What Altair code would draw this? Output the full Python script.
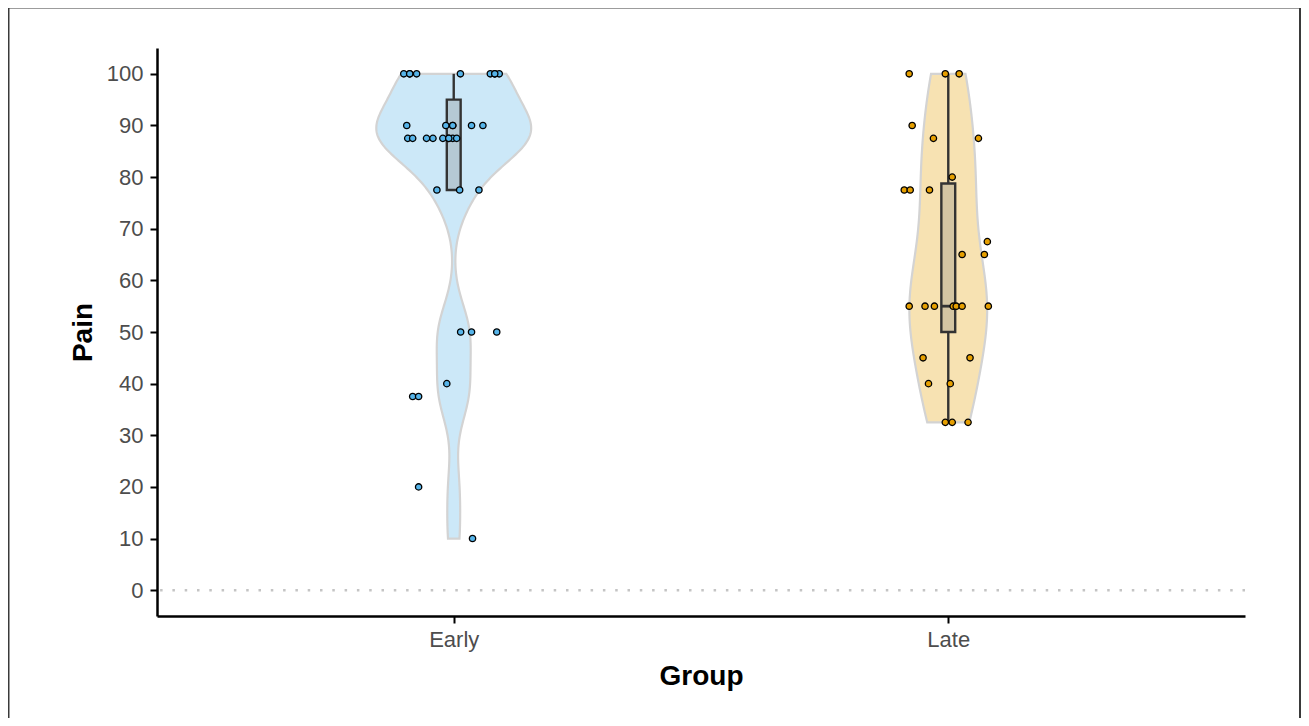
import altair as alt
import numpy as np
import pandas as pd

# ---------------- data ----------------
groups = ["Early", "Late"]
group_pos = [1, 2]
group_colors = ["#56B4E9", "#E69F00"]

early_pain = [100, 100, 100, 100, 100, 100, 100, 100, 100,
              90, 90, 90, 90, 90, 90,
              87.5, 87.5, 87.5, 87.5, 87.5, 87.5, 87.5, 87.5, 87.5,
              77.5, 77.5, 77.5,
              50, 50, 50, 40, 37.5, 37.5, 20, 10]
early_jitter = [-0.101, -0.089, -0.075, 0.0135, 0.074, 0.083, 0.092, -0.089, 0.083,
                -0.095, -0.016, -0.002, 0.036, 0.059, -0.002,
                -0.093, -0.083, -0.055, -0.042, -0.022, -0.010, -0.002, 0.006, -0.010,
                -0.034, 0.012, 0.051,
                0.014, 0.036, 0.087, -0.014, -0.083, -0.071, -0.071, 0.038]

late_pain = [100, 100, 100, 90, 87.5, 87.5, 80, 77.5, 77.5, 77.5,
             67.5, 65, 65,
             55, 55, 55, 55, 55, 55, 55,
             45, 45, 40, 40, 32.5, 32.5, 32.5]
late_jitter = [-0.079, -0.006, 0.022, -0.073, -0.030, 0.061, 0.008, -0.089, -0.077, -0.038,
               0.079, 0.028, 0.073,
               -0.079, -0.047, -0.028, 0.010, 0.016, 0.028, 0.081,
               -0.051, 0.044, -0.040, 0.004, -0.006, 0.008, 0.040]

# box-plot summary
box_lower = [77.5, 32.5]
box_q1 = [77.5, 50.0]
box_median = [87.5, 55.0]
box_q3 = [95.0, 78.75]
box_upper = [100.0, 100.0]

y_ticks = list(range(0, 101, 10))

# ---------------- style constants ----------------
FONT = "Liberation Sans"
VIOLIN_SCALE = 4.8      # x-units per density unit (half width)
BOX_HALF = 0.014        # half box width in x-units
W, H = 1088, 568


def nrd0(v):
    v = np.asarray(v, float)
    sd = v.std(ddof=1)
    q75, q25 = np.percentile(v, [75, 25])
    lo = min(sd, (q75 - q25) / 1.34)
    return 0.9 * lo * len(v) ** -0.2


points_df = pd.concat([
    pd.DataFrame({"group": groups[0], "gx": group_pos[0], "pain": early_pain, "jit": early_jitter}),
    pd.DataFrame({"group": groups[1], "gx": group_pos[1], "pain": late_pain, "jit": late_jitter}),
], ignore_index=True)

box_df = pd.DataFrame({"group": groups, "gx": group_pos, "lower": box_lower, "q1": box_q1,
                       "median": box_median, "q3": box_q3, "upper": box_upper})

xscale = alt.Scale(domain=[0.4, 2.6], nice=False, zero=False)
yscale = alt.Scale(domain=[-5, 105], nice=False, zero=False)
xaxis = alt.Axis(values=group_pos, labelExpr="datum.value == 1 ? 'Early' : 'Late'",
                 title="Group", titlePadding=12, labelPadding=6)
yaxis = alt.Axis(values=y_ticks, title="Pain", titlePadding=9, labelPadding=7)


def X(field):
    return alt.X(field, type="quantitative", scale=xscale, axis=xaxis)


def Y(field):
    return alt.Y(field, type="quantitative", scale=yscale, axis=yaxis)


zero_line = alt.Chart(pd.DataFrame({"pain": [0]})).mark_rule(
    color="#c4c4c4", strokeWidth=2.5, strokeDash=[2.5, 9.8]
).encode(y=Y("pain"))


def violin(vals, pos, color):
    df = pd.DataFrame({"pain": vals})
    return alt.Chart(df).transform_density(
        "pain", as_=["pain", "density"], bandwidth=nrd0(vals),
        extent=[min(vals), max(vals)], steps=300
    ).transform_calculate(
        xl=f"{pos} - datum.density * {VIOLIN_SCALE}",
        xr=f"{pos} + datum.density * {VIOLIN_SCALE}",
    ).mark_area(
        orient="horizontal", fill=color, fillOpacity=0.3, stroke="#d3d3d3", strokeWidth=2.2
    ).encode(y=Y("pain"), x=X("xl"), x2="xr")


v_early = violin(early_pain, group_pos[0], group_colors[0])
v_late = violin(late_pain, group_pos[1], group_colors[1])

box_base = alt.Chart(box_df).transform_calculate(
    bl=f"datum.gx - {BOX_HALF}", br=f"datum.gx + {BOX_HALF}"
)
whisk_up = box_base.mark_rule(color="#333333", strokeWidth=2.4).encode(x=X("gx"), y=Y("q3"), y2="upper")
whisk_lo = box_base.mark_rule(color="#333333", strokeWidth=2.4).encode(x=X("gx"), y=Y("lower"), y2="q1")
box = box_base.mark_rect(fill="#808080", fillOpacity=0.3, stroke="#333333", strokeWidth=2.4).encode(
    x=X("bl"), x2="br", y=Y("q1"), y2="q3")
med = box_base.mark_rule(color="#333333", strokeWidth=2.8).encode(x=X("bl"), x2="br", y=Y("median"))

pts = alt.Chart(points_df).transform_calculate(
    xpos="datum.gx + datum.jit"
).mark_circle(size=40, stroke="black", strokeWidth=1.3, opacity=1).encode(
    x=X("xpos"), y=Y("pain"),
    color=alt.Color("group:N", scale=alt.Scale(domain=groups, range=group_colors), legend=None),
)

frame = alt.Chart(pd.DataFrame({"a": [0]})).mark_rect(
    filled=False, stroke="#3a3a3a", strokeWidth=2
).encode(x=alt.value(-148.5), x2=alt.value(1143), y=alt.value(-40.5), y2=alt.value(720))

chart = alt.layer(zero_line, v_early, v_late, whisk_up, whisk_lo, box, med, pts, frame).properties(
    width=W, height=H,
    autosize=alt.AutoSizeParams(type="none"),
    padding={"left": 149, "top": 40, "right": 56, "bottom": 102},
    background="white",
).configure_view(stroke=None).configure_axis(
    grid=False,
    domainColor="black", domainWidth=2.5,
    tickColor="black", tickWidth=2, tickSize=7,
    labelColor="#4d4d4d", labelFont=FONT, labelFontSize=22,
    titleColor="black", titleFont=FONT, titleFontSize=28, titleFontWeight="bold",
)

chart.save("out.html", embed_options={"renderer": "svg", "actions": False})
